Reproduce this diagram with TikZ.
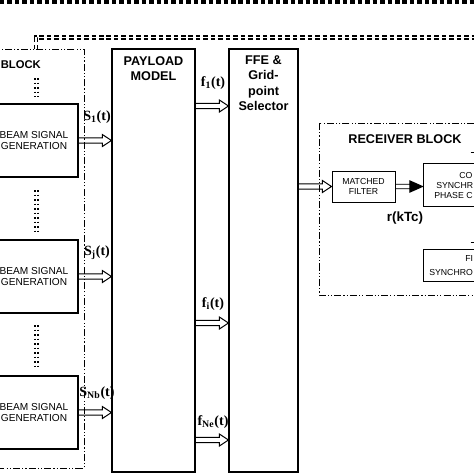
\documentclass[tikz,border=0pt]{standalone}
\usepackage{fontspec}
\setmainfont{Liberation Serif}
\setsansfont{Liberation Sans}
\usetikzlibrary{positioning}
\usetikzlibrary{calc}
\tikzstyle{block} = [rectangle, draw, line width=0.8pt, inner sep=0pt]
\tikzstyle{group} = [draw, line width=0.6pt, dash pattern=on 5pt off 1.5pt on 0.8pt off 1.5pt on 0.8pt off 1.5pt]
\tikzstyle{title} = [font=\sffamily\bfseries\fontsize{9}{11}\selectfont, align=center, inner sep=0pt]
\tikzstyle{small} = [font=\sffamily\fontsize{7.2}{8.3}\selectfont, align=center]
\tikzstyle{tiny} = [font=\sffamily\fontsize{6.2}{7.6}\selectfont, align=center]
\tikzstyle{sig} = [font=\rmfamily\bfseries\fontsize{10}{11}\selectfont, inner sep=0pt]
\tikzstyle{hollowarrow} = [line width=0.7pt, to path={let \p1=(\tikztostart), \p2=(\tikztotarget) in
    (\x1,\y1+1.8pt) -- (\x2-6.5pt,\y1+1.8pt) -- (\x2-6.5pt,\y1+4.3pt) -- (\x2,\y1)
    -- (\x2-6.5pt,\y1-4.3pt) -- (\x2-6.5pt,\y1-1.8pt) -- (\x1,\y1-1.8pt)}]
\tikzstyle{filledarrow} = [line width=0.7pt, fill=black, to path={let \p1=(\tikztostart), \p2=(\tikztotarget) in
    (\x1,\y1+1.6pt) -- (\x2-8pt,\y1+1.6pt) (\x1,\y1-1.6pt) -- (\x2-8pt,\y1-1.6pt)
    (\x2-9pt,\y1+4pt) -- (\x2,\y1) -- (\x2-9pt,\y1-4pt) -- cycle}]
\tikzstyle{dots} = [line width=1.3pt, dash pattern=on 1.4pt off 1.8pt]
\tikzstyle{link} = [line width=0.9pt, double, double distance=1.4pt, dash pattern=on 3.2pt off 2.1pt]

\begin{document}
\begin{tikzpicture}[x=0.025cm, y=-0.025cm]
\useasboundingbox (0,0) rectangle (474,474);
\clip (0,0) rectangle (474,474);

% beam block
\draw[group] (-5,49) rectangle (84,468);
\node (beamtitle) [title, font=\sffamily\bfseries\fontsize{8}{11}\selectfont, anchor=west] at (0.5,65) {BLOCK};
\node (beam1) [block, small, minimum width=2.2cm, minimum height=1.825cm] at (34,140.5) {BEAM SIGNAL\\GENERATION};
\node (beam2) [block, small, minimum width=2.2cm, minimum height=1.825cm] at (34,276.5) {BEAM SIGNAL\\GENERATION};
\node (beam3) [block, small, minimum width=2.2cm, minimum height=1.825cm] at (34,412.5) {BEAM SIGNAL\\GENERATION};
\foreach \a/\b in {78/97, 190/232, 325/367} {
  \draw[dots] (35.3,\a) -- (35.3,\b);
  \draw[dots] (37.8,\a) -- (37.8,\b);
}

% payload and selector
\node (payload) [block, minimum width=2.075cm, minimum height=10.575cm] at (153.5,260.5) {};
\node (payloadtxt) [title, below=5.5pt of payload.north] {PAYLOAD\\MODEL};
\node (ffe) [block, minimum width=1.725cm, minimum height=10.575cm] at (263.5,260.5) {};
\node (ffetxt) [title, below=5pt of ffe.north] {FFE \&\\Grid-\\point\\Selector};

% receiver block
\draw[group] (319,123) rectangle (490,295);
\node (rxtitle) [title] at (405,139) {RECEIVER BLOCK};
\node (mf) [block, tiny, line width=0.7pt, minimum width=1.575cm, minimum height=0.775cm] at (363.5,186.5) {MATCHED\\FILTER};
\node (sync) [block, line width=0.7pt, minimum width=1.925cm, minimum height=1.075cm] at (461.5,184.5) {};
\node (synctxt1) [tiny, anchor=west, inner sep=0pt] at (459,175) {CO};
\node (synctxt2) [tiny, anchor=west, inner sep=0pt] at (436,185) {SYNCHR};
\node (synctxt3) [tiny, anchor=west, inner sep=0pt] at (434,195) {PHASE C};
\node (fine) [block, line width=0.7pt, minimum width=1.925cm, minimum height=0.8cm] at (461.5,265) {};
\node (finetxt1) [tiny, anchor=west, inner sep=0pt] at (465,258) {FI};
\node (finetxt2) [tiny, anchor=west, inner sep=0pt] at (429,272) {SYNCHRO};
\node (rk) [title, font=\sffamily\bfseries\fontsize{9.5}{11}\selectfont] at (405,218) {r(kTc)};

% links at the top
\draw[link] (36,49) -- (36,37.5) -- (474,37.5);
\draw[line width=2.8pt, dash pattern=on 3.2pt off 2.1pt] (0,2) -- (474,2);

% coordinates
\coordinate (f1) at (195,106);
\coordinate (fi) at (195,323);
\coordinate (fne) at (195,440);
\coordinate (t1a) at (470.5,152);
\coordinate (t1b) at (474,152);
\coordinate (t2a) at (470.5,242);
\coordinate (t2b) at (474,242);

% signals
\draw[hollowarrow] (beam1.east) to (payload.west |- beam1.east);
\draw[hollowarrow] (beam2.east) to (payload.west |- beam2.east);
\draw[hollowarrow] (beam3.east) to (payload.west |- beam3.east);
\draw[hollowarrow] (f1) to (ffe.west |- f1);
\draw[hollowarrow] (fi) to (ffe.west |- fi);
\draw[hollowarrow] (fne) to (ffe.west |- fne);
\draw[hollowarrow] (ffe.east |- mf.west) to (mf.west);
\draw[filledarrow] (mf.east) to (sync.west |- mf.east);
\draw[line width=0.6pt] (t1a) -- (t1b);
\draw[line width=0.6pt] (t2a) -- (t2b);

\node (s1) [sig] at (97,117) {S\textsubscript{1}(t)};
\node (sj) [sig] at (97,253) {S\textsubscript{j}(t)};
\node (snb) [sig] at (97,393) {S\textsubscript{Nb}(t)};
\node (lf1) [sig] at (213,83) {f\textsubscript{1}(t)};
\node (lfi) [sig] at (213,304) {f\textsubscript{i}(t)};
\node (lfne) [sig] at (213,422) {f\textsubscript{Ne}(t)};
\end{tikzpicture}
\end{document}
